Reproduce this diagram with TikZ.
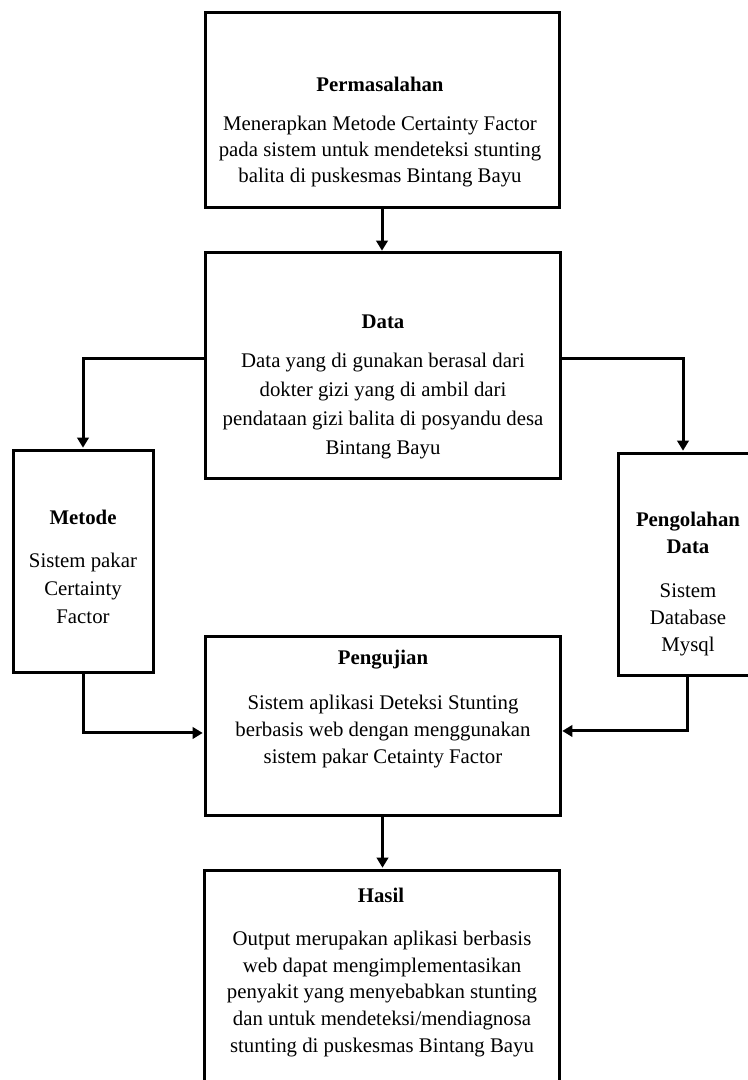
\documentclass[tikz,border=0pt]{standalone}
\usepackage{fontspec}
\setmainfont{Liberation Serif}
\usetikzlibrary{arrows.meta}
\tikzset{
  box/.style={draw=black, line width=2.25pt, fill=none, inner sep=0pt},
  txt/.style={align=center, inner sep=0pt, font=\fontsize{15.6}{20}\selectfont},
  ttl/.style={txt, font=\fontsize{15.6}{20}\selectfont\bfseries},
  arr/.style={draw=black, line width=2.25pt, -{Triangle[length=7.5pt,width=8.5pt]}, shorten >=0.6pt}
}
\begin{document}
\begin{tikzpicture}[x=0.75pt,y=-0.75pt]
  \useasboundingbox (0,0) rectangle (748,1080);
  \fill[white] (0,0) rectangle (748,1080);

  % boxes
  \node[box, minimum width=265.5pt, minimum height=146.25pt] (masalah) at (382,110.5) {};
  \node[box, minimum width=266.25pt, minimum height=168.75pt] (data) at (382.5,365.5) {};
  \node[box, minimum width=105pt, minimum height=166.5pt] (metode) at (83,561) {};
  \node[box, minimum width=105pt, minimum height=166.5pt] (olah) at (688,564) {};
  \node[box, minimum width=266.25pt, minimum height=134.25pt] (uji) at (382.5,725.5) {};
  \node[box, minimum width=266.25pt, minimum height=172.5pt] (hasil) at (381.5,985) {};

  % texts
  \node[ttl] (tMasalah) at (380,84) {Permasalahan};
  \node[txt, font=\fontsize{15.6}{19.5}\selectfont] (bMasalah) at (380,152) {Menerapkan Metode Certainty Factor\\pada sistem untuk mendeteksi stunting\\balita di puskesmas Bintang Bayu};

  \node[ttl] (tData) at (383,322) {Data};
  \node[txt, font=\fontsize{15.6}{21.75}\selectfont] (bData) at (383,406) {Data yang di gunakan berasal dari\\dokter gizi yang di ambil dari\\pendataan gizi balita di posyandu desa\\Bintang Bayu};

  \node[ttl] (tMetode) at (83,517) {Metode};
  \node[txt, font=\fontsize{15.6}{21}\selectfont] (bMetode) at (83,588) {Sistem pakar\\Certainty\\Factor};

  \node[ttl] (tOlah) at (688,533) {Pengolahan\\Data};
  \node[txt] (bOlah) at (688,620) {Sistem\\Database\\Mysql};

  \node[ttl] (tUji) at (383,660) {Pengujian};
  \node[txt] (bUji) at (383,731.5) {Sistem aplikasi Deteksi Stunting\\berbasis web dengan menggunakan\\sistem pakar Cetainty Factor};

  \node[ttl] (tHasil) at (381,895) {Hasil};
  \node[txt] (bHasil) at (382,994) {Output merupakan aplikasi berbasis\\web dapat mengimplementasikan\\penyakit yang menyebabkan stunting\\dan untuk mendeteksi/mendiagnosa\\stunting di puskesmas Bintang Bayu};

  % connectors
  \draw[arr] (masalah.south) -- (masalah.south |- data.north);
  \draw[arr] ([yshift=5.6pt]data.west) -| (metode.north);
  \draw[arr] ([yshift=5.6pt]data.east) -| ([xshift=-3.75pt]olah.north);
  \draw[arr] (metode.south) |- ([yshift=-5.6pt]uji.west);
  \draw[arr] ([xshift=-0.75pt]olah.south) |- ([yshift=-4.1pt]uji.east);
  \draw[arr] (uji.south) -- (uji.south |- hasil.north);
\end{tikzpicture}
\end{document}
